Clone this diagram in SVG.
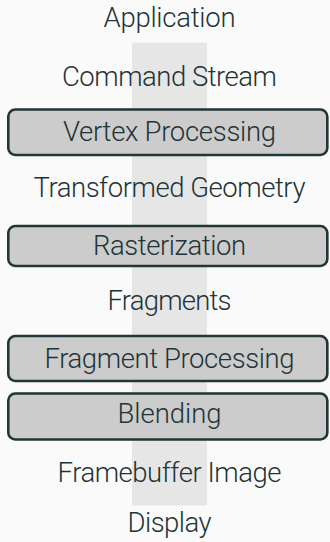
<svg xmlns="http://www.w3.org/2000/svg" width="330" height="542" viewBox="0 0 330 542">
<style>
.t{font-family:Roboto,"Liberation Sans",Arial,sans-serif;font-weight:300;font-size:27.5px;fill:#1f3436;text-anchor:middle}
.box{fill:#cccccc;stroke:#213637;stroke-width:2.6}
</style>
<rect width="330" height="542" fill="#fafafa"/>
<g id="connectors">
<rect x="132" y="42.5" width="75" height="463" fill="#e6e6e6"/>
</g>
<g id="application"><text class="t" x="169.5" y="27" textLength="132">Application</text></g>
<g id="command-stream"><text class="t" x="169.5" y="86" textLength="215">Command Stream</text></g>
<g id="vertex-processing"><rect class="box" x="8.3" y="109.5" width="319" height="45.5" rx="7"/><text class="t" x="169.5" y="141" textLength="213">Vertex Processing</text></g>
<g id="transformed-geometry"><text class="t" x="169.5" y="196.5" textLength="272">Transformed Geometry</text></g>
<g id="rasterization"><rect class="box" x="8.3" y="226" width="319" height="40" rx="7"/><text class="t" x="169.5" y="255" textLength="153">Rasterization</text></g>
<g id="fragments"><text class="t" x="169.5" y="310" textLength="124">Fragments</text></g>
<g id="fragment-processing"><rect class="box" x="8.3" y="336" width="319" height="45" rx="7"/><text class="t" x="169.5" y="368" textLength="250">Fragment Processing</text></g>
<g id="blending"><rect class="box" x="8.3" y="393.5" width="319" height="46" rx="7"/><text class="t" x="169.5" y="423" textLength="104">Blending</text></g>
<g id="framebuffer-image"><text class="t" x="169.5" y="482" textLength="224">Framebuffer Image</text></g>
<g id="display"><text class="t" x="169.5" y="531.5" textLength="84">Display</text></g>
</svg>
